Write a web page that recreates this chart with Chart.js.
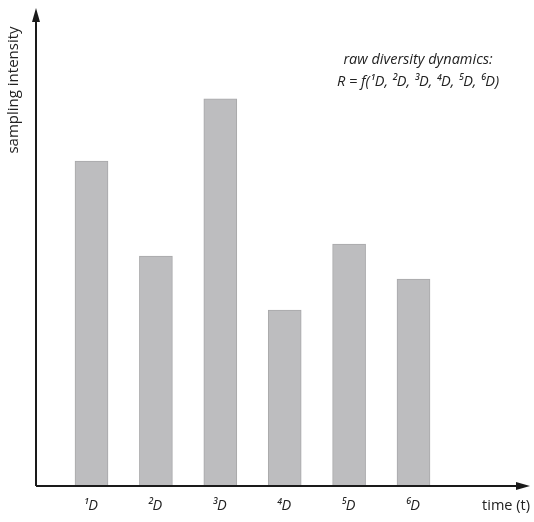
<!DOCTYPE html>
<html>
<head>
<meta charset="utf-8">
<script src="https://cdn.jsdelivr.net/npm/chart.js@4"></script>
<style>
  html, body { margin: 0; padding: 0; background: #fff; }
  #wrap { width: 534px; height: 522px; }
</style>
</head>
<body>
<div id="wrap"><canvas id="chart" width="534" height="522"></canvas></div>
<script>
// data (arbitrary units, axis 0..100)
const positions = [1, 2, 3, 4, 5, 6];
const tickLabels = ["¹D", "²D", "³D", "⁴D", "⁵D", "⁶D"];
const intensity = [68.0, 48.1, 81.0, 36.8, 50.6, 43.3];
const yTitle = "sampling intensity";
const xTitle = "time (t)";
const noteLines = ["raw diversity dynamics:", "R = f(¹D, ²D, ³D, ⁴D, ⁵D, ⁶D)"];

const FONT = "'Open Sans', 'DejaVu Sans', sans-serif";

// axes with arrow heads + labels, drawn from the chart's own scales
const axesPlugin = {
  id: "axesPlugin",
  afterDraw(chart) {
    const { ctx, chartArea: a, scales } = chart;
    const x0 = a.left, y0 = a.bottom;
    ctx.save();
    ctx.strokeStyle = "#1a1a1a";
    ctx.fillStyle = "#1a1a1a";
    ctx.lineWidth = 2;
    ctx.beginPath();
    ctx.moveTo(x0, y0);
    ctx.lineTo(x0, a.top + 10);
    ctx.moveTo(x0, y0);
    ctx.lineTo(a.right - 10, y0);
    ctx.stroke();
    // y arrow
    ctx.beginPath();
    ctx.moveTo(x0, a.top);
    ctx.lineTo(x0 - 4, a.top + 14);
    ctx.lineTo(x0 + 4, a.top + 14);
    ctx.closePath();
    ctx.fill();
    // x arrow
    ctx.beginPath();
    ctx.moveTo(a.right, y0);
    ctx.lineTo(a.right - 14, y0 - 4);
    ctx.lineTo(a.right - 14, y0 + 4);
    ctx.closePath();
    ctx.fill();

    // tick labels
    ctx.fillStyle = "#222";
    ctx.textAlign = "center";
    ctx.textBaseline = "middle";
    ctx.font = "italic 14.5px " + FONT;
    positions.forEach((p, i) => {
      ctx.fillText(tickLabels[i], scales.x.getPixelForValue(p) - 1, y0 + 20);
    });

    // x title
    ctx.font = "14.5px " + FONT;
    ctx.textAlign = "right";
    ctx.fillText(xTitle, a.right, y0 + 20);

    // y title
    ctx.save();
    ctx.font = "15px " + FONT;
    ctx.translate(14, a.top + 82);
    ctx.rotate(-Math.PI / 2);
    ctx.textAlign = "center";
    ctx.fillText(yTitle, 0, 0);
    ctx.restore();

    // note
    ctx.font = "italic 14.5px " + FONT;
    ctx.textAlign = "center";
    ctx.fillText(noteLines[0], 418, 60);
    ctx.fillText(noteLines[1], 418, 82);
    ctx.restore();
  }
};

new Chart(document.getElementById("chart"), {
  type: "bar",
  data: {
    datasets: [{
      data: positions.map((p, i) => ({ x: p, y: intensity[i] })),
      backgroundColor: "#bdbdbf",
      borderColor: "#a8a8aa",
      borderWidth: 1,
      barThickness: 33
    }]
  },
  options: {
    responsive: false,
    animation: false,
    layout: { padding: { left: 36, right: 4, top: 8, bottom: 36 } },
    plugins: { legend: { display: false }, tooltip: { enabled: false } },
    scales: {
      x: { type: "linear", min: 0.138, max: 7.809, offset: false, display: false },
      y: { min: 0, max: 100, display: false }
    }
  },
  plugins: [axesPlugin]
});
</script>
</body>
</html>
